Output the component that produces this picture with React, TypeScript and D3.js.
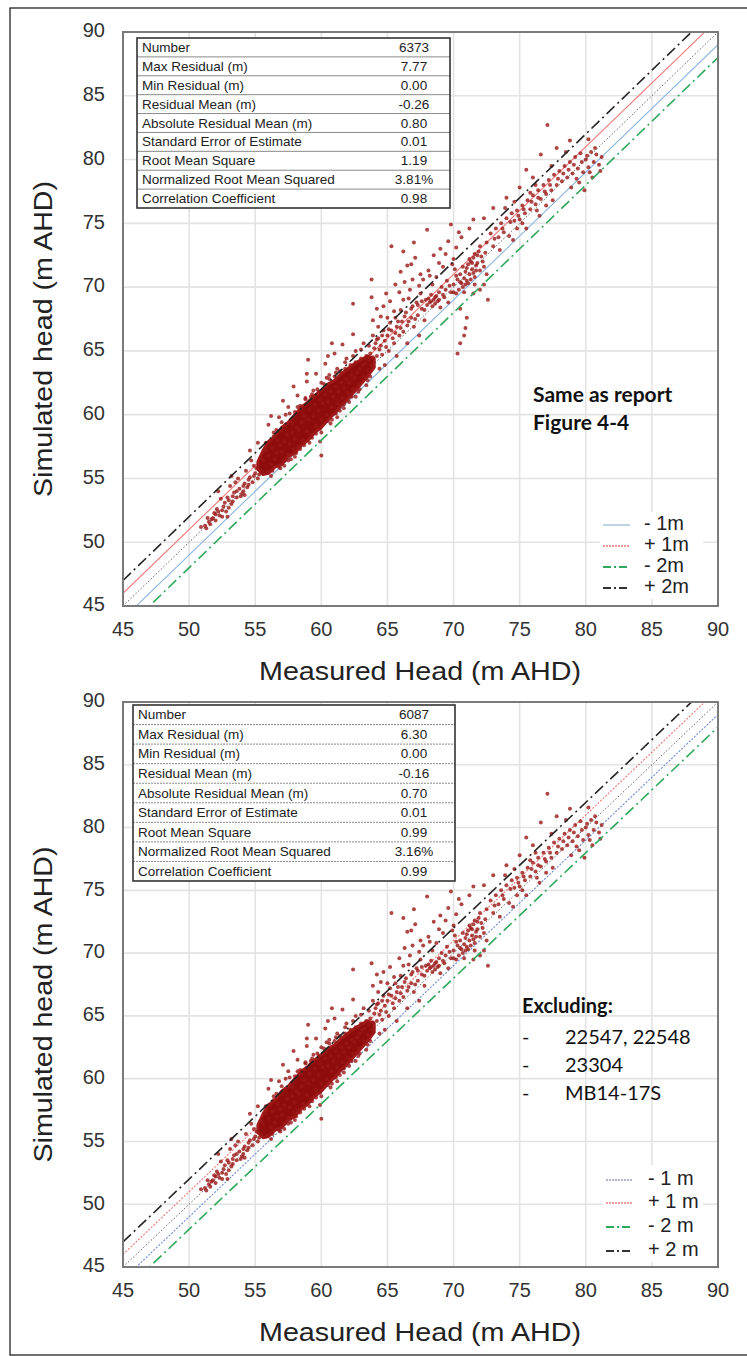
import React from 'react'
import * as d3 from 'd3'

const W = 747
const H = 1356

const axisTicks = [45, 50, 55, 60, 65, 70, 75, 80, 85, 90]
const statLabels = [
  'Number',
  'Max Residual (m)',
  'Min Residual (m)',
  'Residual Mean (m)',
  'Absolute Residual Mean (m)',
  'Standard Error of Estimate',
  'Root Mean Square',
  'Normalized Root Mean Squared',
  'Correlation Coefficient',
]
const statsTop = ['6373', '7.77', '0.00', '-0.26', '0.80', '0.01', '1.19', '3.81%', '0.98']
const statsBottom = ['6087', '6.30', '0.00', '-0.16', '0.70', '0.01', '0.99', '3.16%', '0.99']
const innerOffsets = [1, 0, -1]
const outerOffsets = [2, -2]
const legendOffsets = [-1, 1, -2, 2]
const legendTop = ['- 1m', '+ 1m', '- 2m', '+ 2m']
const legendBottom = ['- 1 m', '+ 1 m', '- 2 m', '+ 2 m']
const excludedWells = ['22547, 22548', '23304', 'MB14-17S']

// saturated part of the cloud, read as a band of simulated values per measured value
const coreX = [55.2, 55.6, 56, 56.5, 57, 57.5, 58, 58.5, 59, 59.5, 60, 60.5, 61, 61.5, 62, 62.5, 63, 63.5, 64]
const coreLow = [55.7, 55.3, 55.4, 55.9, 56.1, 56.7, 57.0, 57.6, 58.0, 58.6, 59.0, 59.6, 60.1, 60.7, 61.2, 61.8, 62.4, 63.0, 63.7]
const coreHigh = [56.3, 57.2, 57.9, 58.3, 59.0, 59.4, 60.0, 60.6, 61.0, 61.5, 61.9, 62.4, 62.7, 63.2, 63.6, 64.0, 64.3, 64.6, 64.4]

type Pt = [number, number]

const tailPoints: Pt[] = [
  [51.2, 51.3], [51.5, 51.6], [51.8, 51.9], [51.6, 51.4], [52.0, 52.2], [52.3, 52.1], [52.1, 52.6],
  [52.6, 52.8], [52.8, 52.4], [53.0, 53.3], [53.2, 53.0], [53.4, 53.9], [53.6, 53.5], [53.8, 54.2],
  [54.0, 53.8], [54.2, 54.6], [54.4, 54.3], [54.6, 55.1], [54.8, 54.7], [55.0, 55.4], [52.4, 53.4],
  [53.1, 54.4], [53.7, 55.0], [54.3, 55.6], [52.9, 52.0], [54.1, 54.0], [53.5, 54.7], [54.9, 56.0],
  [55.2, 55.0], [55.4, 56.6], [52.5, 52.5], [51.9, 52.3], [53.9, 53.6], [51.4, 51.9], [52.7, 53.1],
  [53.3, 53.6], [54.5, 54.9], [55.1, 55.8], [54.7, 56.4], [53.2, 55.2], [52.2, 54.0], [51.3, 51.1],
  [51.7, 51.8], [52.2, 52.4], [52.5, 52.0], [52.9, 53.5], [53.3, 53.2], [53.6, 54.0], [54.1, 54.4],
  [54.5, 54.5], [54.9, 55.2], [55.3, 55.3], [52.0, 51.7], [53.0, 52.7], [54.2, 53.7], [50.9, 51.2],
]

const corePoints: Pt[] = [
  [55.5, 55.6], [55.6, 56.4], [55.8, 57.2], [55.9, 55.5], [56.0, 56.8], [56.1, 57.9], [56.2, 56.1],
  [56.3, 57.4], [56.4, 58.3], [56.5, 56.5], [56.6, 57.0], [56.7, 58.0], [56.8, 55.9], [56.9, 57.6],
  [57.0, 58.8], [57.0, 57.1], [57.1, 56.4], [57.2, 57.9], [57.3, 59.2], [57.4, 58.4], [57.5, 56.9],
  [57.6, 57.7], [57.7, 59.6], [57.8, 58.6], [57.9, 57.3], [58.0, 58.1], [58.0, 60.2], [58.1, 59.0],
  [58.2, 57.5], [58.3, 58.8], [58.4, 60.7], [58.5, 59.4], [58.6, 58.0], [58.7, 59.9], [58.8, 61.2],
  [58.9, 58.7], [59.0, 59.6], [59.1, 60.4], [59.2, 58.4], [59.3, 61.6], [59.4, 59.9], [59.5, 60.8],
  [59.6, 59.1], [59.7, 62.0], [59.8, 60.3], [59.9, 61.2], [60.0, 59.6], [60.1, 60.9], [60.2, 62.4],
  [60.3, 61.6], [60.4, 60.0], [60.5, 61.0], [60.6, 62.8], [60.7, 61.8], [60.8, 60.6], [60.9, 61.4],
  [61.0, 63.0], [61.1, 62.2], [61.2, 60.9], [61.3, 61.8], [61.4, 63.4], [61.5, 62.5], [61.6, 61.3],
  [61.7, 62.1], [61.8, 63.6], [61.9, 62.8], [62.0, 61.7], [62.1, 62.5], [62.2, 63.9], [62.3, 63.1],
  [62.4, 62.0], [62.5, 62.9], [62.6, 64.1], [62.7, 63.3], [62.8, 62.4], [62.9, 63.6], [63.0, 64.4],
  [63.1, 63.9], [63.2, 63.0], [63.3, 64.0], [63.4, 64.6], [63.5, 63.5], [63.6, 64.3], [63.7, 64.8],
  [63.8, 63.9], [63.9, 64.5],
]

const coreEdgePoints: Pt[] = [
  [55.8, 57.8], [56.4, 58.6], [57.0, 59.4], [57.6, 60.1], [58.2, 60.6], [58.8, 61.3], [59.4, 61.9],
  [60.0, 62.5], [60.6, 63.1], [61.2, 63.6], [61.8, 64.1], [62.4, 64.6], [63.0, 65.1], [63.6, 65.4],
  [64.2, 65.9], [56.2, 55.2], [56.9, 55.8], [57.5, 56.4], [58.1, 57.0], [58.7, 57.6], [59.3, 58.2],
  [59.9, 58.9], [60.5, 59.5], [61.1, 60.1], [61.7, 60.8], [62.3, 61.4], [62.9, 62.0], [63.5, 62.7],
  [56.0, 59.2], [56.8, 59.8], [57.5, 60.6], [58.2, 61.5], [58.9, 62.6], [59.6, 63.2], [60.3, 64.0],
  [61.0, 64.8], [61.6, 65.5], [62.4, 66.3], [62.4, 68.7], [63.8, 69.2], [55.2, 57.8], [54.6, 57.2],
  [57.9, 62.2], [60.8, 65.6], [59.0, 64.3], [57.2, 56.0], [58.0, 56.7], [59.1, 57.8], [60.0, 58.6],
  [60.8, 59.6], [61.7, 60.5], [62.6, 61.4], [63.4, 62.3], [59.9, 57.9], [60.0, 56.8], [61.2, 59.8],
  [56.6, 58.8], [57.3, 60.0], [57.8, 59.3], [58.5, 60.4], [59.2, 61.4], [59.8, 61.8], [60.4, 62.9],
  [61.1, 63.3], [61.9, 64.4], [62.6, 65.0], [63.2, 65.6], [56.3, 55.6], [57.7, 56.5], [58.4, 57.3],
  [59.6, 58.5], [60.7, 59.3], [61.4, 60.3], [62.1, 61.0], [62.8, 61.8], [63.7, 63.0], [64.4, 63.6],
  [58.9, 63.2], [57.1, 61.1], [60.5, 64.6], [56.2, 59.9],
]

const midPoints: Pt[] = [
  [64.0, 65.2], [64.2, 64.6], [64.3, 66.0], [64.5, 65.4], [64.6, 64.7], [64.7, 66.6], [64.8, 65.8],
  [65.0, 66.2], [65.1, 65.0], [65.2, 67.2], [65.3, 66.6], [65.5, 65.6], [65.6, 67.6], [65.7, 66.9],
  [65.9, 66.2], [66.0, 68.2], [66.1, 67.3], [66.2, 66.5], [66.4, 68.0], [66.5, 67.0], [66.6, 69.1],
  [66.8, 67.6], [66.9, 68.5], [67.0, 66.9], [67.2, 68.8], [67.3, 67.8], [67.5, 69.5], [67.6, 68.3],
  [67.8, 67.4], [67.9, 69.0], [64.2, 68.3], [66.5, 71.7], [66.3, 70.4], [67.1, 72.3], [67.5, 71.0],
  [65.2, 68.9], [63.9, 67.4], [64.5, 67.7], [66.9, 70.6], [64.8, 63.9], [65.7, 64.6], [66.5, 65.6],
  [67.4, 66.2], [64.1, 65.6], [64.4, 65.1], [64.6, 66.2], [64.9, 65.3], [65.1, 66.7], [65.4, 66.0],
  [65.6, 66.4], [65.8, 67.3], [66.0, 66.8], [66.3, 67.7], [66.6, 67.3], [66.8, 68.3], [67.1, 67.5],
  [67.3, 68.6], [67.6, 68.9], [67.8, 68.2], [65.0, 67.6], [65.5, 68.1], [66.2, 69.0], [66.7, 69.8],
  [67.4, 70.1], [64.3, 66.9], [63.9, 66.2], [64.7, 68.5], [65.9, 69.6], [67.7, 70.6], [68.2, 70.9],
  [68.0, 68.6], [68.1, 69.1], [68.2, 68.8], [68.3, 69.4], [68.4, 68.5], [68.5, 69.0],
  [68.6, 68.7], [68.7, 69.3], [68.8, 68.9], [68.9, 69.6], [69.0, 68.4], [68.4, 70.2], [68.7, 70.8],
  [69.1, 70.0], [69.3, 69.2], [69.5, 70.5], [69.6, 68.8], [69.8, 69.6], [70.0, 70.2], [70.1, 71.4],
  [70.2, 69.5], [70.3, 70.6], [70.4, 69.8], [70.5, 71.0], [70.6, 70.3], [70.7, 71.6], [70.8, 70.7],
  [70.9, 71.2], [71.0, 70.5], [71.1, 71.8], [71.2, 71.0], [71.3, 72.0], [71.4, 71.4], [71.5, 72.3],
  [71.6, 70.8], [71.7, 71.7], [71.8, 72.5], [72.0, 71.3], [72.2, 72.0], [72.0, 69.8], [71.5, 69.5],
  [72.3, 70.2], [72.5, 71.0], [72.0, 73.2], [72.6, 69.0], [68.5, 72.5], [69.0, 73.0], [69.6, 73.6],
  [70.0, 72.2], [69.2, 71.6], [68.1, 71.3], [70.6, 73.9], [71.2, 74.6], [70.4, 74.3], [69.8, 74.9],
  [71.5, 75.3], [65.3, 73.2], [66.2, 72.8], [67.0, 73.5], [68.0, 74.5], [66.8, 71.8], [68.3, 68.9],
  [68.6, 69.2], [68.9, 69.0], [69.2, 69.4], [69.4, 69.8], [69.7, 70.1], [70.0, 69.6], [70.2, 70.9],
  [70.5, 70.4], [70.7, 70.0], [70.9, 70.2], [71.0, 71.5], [71.2, 72.2], [71.3, 70.6], [71.4, 71.9],
  [71.5, 71.1], [71.6, 72.6], [71.7, 71.3], [71.8, 71.9], [71.9, 72.8], [72.1, 72.4], [71.1, 70.3],
  [70.8, 69.6], [71.6, 70.2], [72.3, 71.6], [72.4, 72.7], [69.9, 71.8], [69.4, 72.6], [70.2, 73.1],
  [68.9, 71.9],
]

const upperPoints: Pt[] = [
  [72.5, 73.5], [72.8, 74.2], [73.0, 73.2], [73.2, 74.6], [73.4, 73.9], [73.6, 75.0], [73.8, 74.3],
  [74.0, 75.4], [74.2, 74.0], [74.4, 75.8], [74.6, 75.2], [74.8, 76.0], [75.0, 75.3], [75.2, 76.4],
  [75.4, 75.8], [75.6, 76.8], [75.8, 76.1], [76.0, 77.2], [76.2, 76.5], [76.4, 77.6], [76.6, 76.9],
  [76.8, 78.0], [77.0, 77.3], [77.2, 78.4], [77.4, 77.6], [77.6, 78.8], [77.8, 78.0], [78.0, 79.1],
  [78.2, 78.3], [78.4, 79.5], [78.6, 78.6], [78.8, 79.8], [79.0, 78.9], [79.2, 80.2], [79.4, 79.3],
  [79.6, 80.5], [79.8, 79.0], [80.0, 80.0], [80.2, 79.4], [80.4, 80.6], [80.6, 79.8], [80.8, 80.4],
  [81.0, 79.6], [81.2, 80.2], [79.5, 78.2], [80.5, 78.6], [79.9, 77.6], [78.9, 77.8], [77.5, 76.8],
  [76.5, 75.6], [75.5, 74.6], [74.5, 73.7], [73.5, 72.9], [73.0, 76.2], [74.0, 77.0], [75.0, 77.8],
  [76.0, 78.6], [77.1, 82.7], [76.6, 80.4], [77.8, 80.9], [78.8, 81.5], [75.5, 79.2], [72.3, 75.4],
  [80.2, 81.6], [75.8, 77.4], [76.3, 76.0], [77.0, 76.4], [75.2, 75.0], [74.8, 74.6], [73.1, 73.8],
  [73.7, 74.6], [74.3, 75.1], [74.9, 75.6], [75.3, 76.1], [75.9, 76.7], [76.4, 77.0], [76.9, 77.5],
  [77.3, 78.0], [77.9, 78.5], [78.3, 78.9], [78.7, 79.2], [79.1, 79.6], [79.7, 79.8], [80.1, 80.3],
  [80.7, 80.9], [79.3, 78.5], [80.3, 79.0], [78.5, 80.6], [77.4, 79.5], [76.2, 78.0], [74.6, 76.7],
  [73.9, 76.2], [81.1, 79.1],
]

// wells removed in the lower panel
const excludedPoints: Pt[] = [
  [70.3, 64.8], [70.5, 65.6], [70.9, 66.8], [71.0, 67.6], [70.5, 68.3], [66.0, 71.2], [64.9, 69.5],
  [65.6, 70.2], [63.8, 70.6], [70.8, 66.2],
]

const sharedPoints = [...tailPoints, ...corePoints, ...coreEdgePoints, ...midPoints, ...upperPoints]

const lineStyle = (o: number, lower: boolean) => {
  if (o === 2) return { stroke: '#222', width: 1.6, dash: '11,4,2,4' }
  if (o === -2) return { stroke: '#2ea85a', width: 1.6, dash: '11,4,2,4' }
  if (o === 1) return { stroke: '#f07878', width: 1.1, dash: lower ? '2,1.5' : null }
  if (o === -1) return lower ? { stroke: '#6c8ad6', width: 1.1, dash: '2,1.5' } : { stroke: '#8cb6e3', width: 1.1, dash: null }
  return { stroke: '#666', width: 1, dash: '1.5,2' }
}

const legendStyle = (o: number, lower: boolean) => {
  if (o === 2) return { stroke: '#333', width: 2, dash: '8,3,2,3' }
  if (o === -2) return { stroke: '#2ea85a', width: 2, dash: '8,3,2,3' }
  if (o === 1) return { stroke: '#f07878', width: 1.5, dash: '2,1' }
  return lower ? { stroke: '#9a9ac0', width: 1.5, dash: '2,1' } : { stroke: '#a9c4de', width: 1.5, dash: null }
}

type PanelProps = {
  id: string
  top: number
  bottom: number
  stats: string[]
  table: [number, number, number, number]
  dashedRows: boolean
  legend: string[]
  legendRows: number[]
  legendBox: [number, number, number, number]
  legendTextX: number
  lower: boolean
  points: Pt[]
}

const Panel = (p: PanelProps) => {
  const x = d3.scaleLinear().domain([45, 90]).range([123, 718])
  const y = d3.scaleLinear().domain([45, 90]).range([p.bottom, p.top])
  const line = d3.line<Pt>().x(d => x(d[0])).y(d => y(d[1]))
  const area = d3
    .area<number>()
    .x(d => x(d))
    .y0((d, i) => y(coreLow[i]))
    .y1((d, i) => y(coreHigh[i]))
  const [tx0, ty0, tx1, ty1] = p.table
  const rowH = (ty1 - ty0) / statLabels.length
  const [lx0, ly0, lx1, ly1] = p.legendBox
  const midY = (p.top + p.bottom) / 2

  const diag = (o: number) => {
    const s = lineStyle(o, p.lower)
    return (
      <path
        key={o}
        d={line([[45, 45 + o], [90, 90 + o]]) ?? ''}
        fill="none"
        stroke={s.stroke}
        strokeWidth={s.width}
        strokeDasharray={s.dash ?? undefined}
      />
    )
  }

  return (
    <g>
      <defs>
        <clipPath id={`clip-${p.id}`}>
          <rect x={123} y={p.top} width={595} height={p.bottom - p.top} />
        </clipPath>
      </defs>
      {axisTicks.map(t => (
        <g key={t}>
          <line x1={x(t)} x2={x(t)} y1={p.top} y2={p.bottom} stroke="#e3e3e3" strokeWidth={1.6} />
          <line x1={123} x2={718} y1={y(t)} y2={y(t)} stroke="#e3e3e3" strokeWidth={1.6} />
          <text x={x(t)} y={p.bottom + 25} textAnchor="middle" dominantBaseline="middle" fontSize={20} fill="#333">
            {t}
          </text>
          <text x={105} y={y(t)} textAnchor="end" dominantBaseline="middle" fontSize={20} fill="#333">
            {t}
          </text>
        </g>
      ))}
      <g clipPath={`url(#clip-${p.id})`}>
        {innerOffsets.map(diag)}
        <path d={area(coreX) ?? ''} fill="#8e0c0c" stroke="#a01818" strokeWidth={3} strokeLinejoin="round" />
        {p.points.map((d, i) => (
          <circle key={i} cx={x(d[0])} cy={y(d[1])} r={2} fill="#9a1616" fillOpacity={0.8} />
        ))}
        {outerOffsets.map(diag)}
      </g>
      <rect x={123} y={p.top} width={595} height={p.bottom - p.top} fill="none" stroke="#7a7a7a" strokeWidth={2} />

      {/* statistics table */}
      <rect x={tx0} y={ty0} width={tx1 - tx0} height={ty1 - ty0} fill="#fff" />
      {statLabels.map((lab, i) => (
        <g key={lab}>
          {i > 0 && (
            <line
              x1={tx0}
              x2={tx1}
              y1={ty0 + i * rowH}
              y2={ty0 + i * rowH}
              stroke="#8a8a8a"
              strokeWidth={1}
              strokeDasharray={p.dashedRows ? '2,1' : undefined}
            />
          )}
          <text x={tx0 + 5} y={ty0 + (i + 0.5) * rowH + 1} dominantBaseline="middle" fontSize={13.5} fill="#222">
            {lab}
          </text>
          <text x={414} y={ty0 + (i + 0.5) * rowH + 1} textAnchor="middle" dominantBaseline="middle" fontSize={13.5} fill="#222">
            {p.stats[i]}
          </text>
        </g>
      ))}
      <rect x={tx0} y={ty0} width={tx1 - tx0} height={ty1 - ty0} fill="none" stroke="#333" strokeWidth={1.6} />

      {/* legend */}
      <rect x={lx0} y={ly0} width={lx1 - lx0} height={ly1 - ly0} fill="#fff" />
      {legendOffsets.map((o, i) => {
        const s = legendStyle(o, p.lower)
        return (
          <g key={o}>
            <line
              x1={lx0 + 3}
              x2={lx0 + 30}
              y1={p.legendRows[i]}
              y2={p.legendRows[i]}
              stroke={s.stroke}
              strokeWidth={s.width}
              strokeDasharray={s.dash ?? undefined}
            />
            <text x={p.legendTextX} y={p.legendRows[i]} dominantBaseline="middle" fontSize={20} fill="#222">
              {p.legend[i]}
            </text>
          </g>
        )
      })}

      <text x={420} y={p.bottom + 74} textAnchor="middle" fontSize={25} textLength={322} lengthAdjust="spacingAndGlyphs" fill="#222">
        Measured Head (m AHD)
      </text>
      <text
        transform={`translate(52,${midY + 20}) rotate(-90)`}
        textAnchor="middle"
        fontSize={25}
        textLength={316}
        lengthAdjust="spacingAndGlyphs"
        fill="#222"
      >
        Simulated head (m AHD)
      </text>
    </g>
  )
}

export default function App() {
  const note = "Lato, 'Open Sans', sans-serif"
  return (
    <svg
      width={W}
      height={H}
      style={{ position: 'absolute', left: 0, top: 0, background: '#fff' }}
      fontFamily="'Liberation Sans', Arial, sans-serif"
    >
      <rect x={0} y={0} width={W} height={H} fill="#fff" />
      <rect x={10} y={8} width={W + 10} height={1347} fill="none" stroke="#111" strokeWidth={1.2} />
      <Panel
        id="top"
        top={32}
        bottom={606}
        stats={statsTop}
        table={[137, 38, 450, 208]}
        dashedRows={false}
        legend={legendTop}
        legendRows={[525, 546, 567, 588]}
        legendBox={[600, 512, 703, 599]}
        legendTextX={644}
        lower={false}
        points={[...sharedPoints, ...excludedPoints]}
      />
      <text x={533} y={402} fontFamily={note} fontWeight="bold" fontSize={21} fill="#111">
        Same as report
      </text>
      <text x={533} y={430} fontFamily={note} fontWeight="bold" fontSize={21} fill="#111">
        Figure 4-4
      </text>

      <Panel
        id="bottom"
        top={702}
        bottom={1267}
        stats={statsBottom}
        table={[133, 705, 455, 881]}
        dashedRows={true}
        legend={legendBottom}
        legendRows={[1180, 1203, 1227, 1251]}
        legendBox={[603, 1165, 703, 1262]}
        legendTextX={648}
        lower={true}
        points={sharedPoints}
      />
      <text x={522} y={1013} fontFamily={note} fontWeight="bold" fontSize={20} fill="#111">
        Excluding:
      </text>
      {excludedWells.map((w, i) => (
        <g key={w} fontFamily={note} fontSize={20} fill="#111">
          <text x={522} y={1044 + i * 28}>-</text>
          <text x={565} y={1044 + i * 28}>{w}</text>
        </g>
      ))}
    </svg>
  )
}
